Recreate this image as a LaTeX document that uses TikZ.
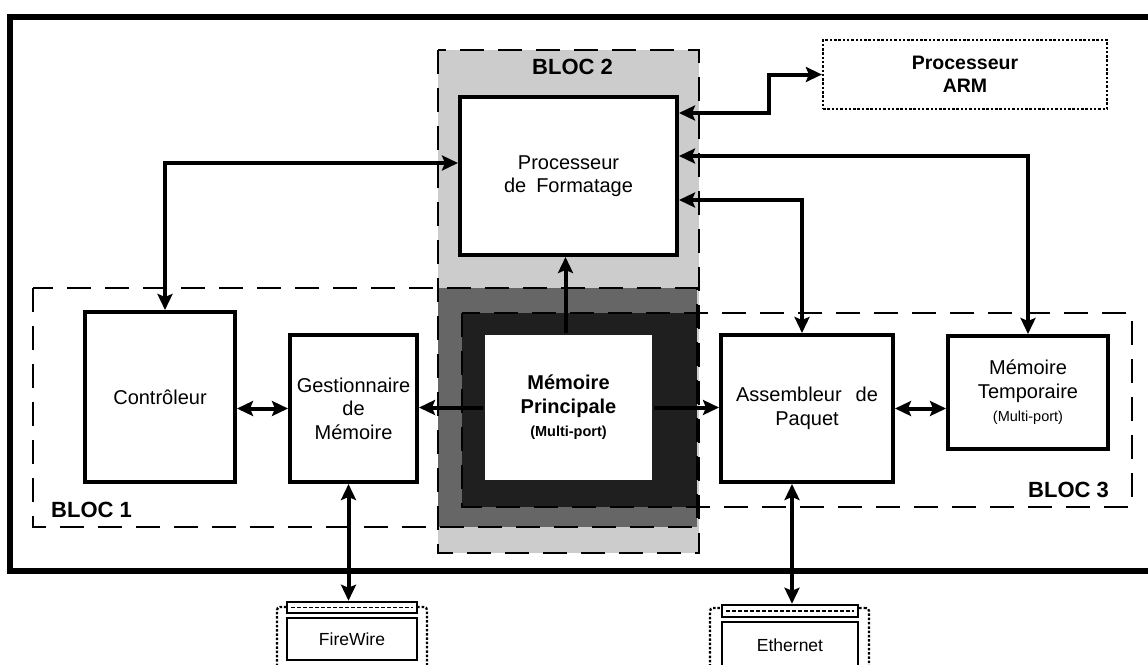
\documentclass[tikz,border=0pt]{standalone}
\usepackage{fontspec}
\setmainfont{Liberation Sans}
\usetikzlibrary{arrows.meta,calc}
\tikzset{
  box/.style={draw, line width=4pt, fill=white, align=center, inner sep=0pt,
    font=\fontsize{20}{23.5}\selectfont},
  conn/.style={line width=4pt},
  tipA/.tip={Stealth[length=16pt,width=15pt,inset=3pt]},
  dbl/.style={conn, tipA-tipA},
  sarr/.style={conn, -tipA},
  blocline/.style={draw, line width=2.6pt, dash pattern=on 24pt off 14pt},
  bloclabel/.style={font=\bfseries\fontsize{22}{26}\selectfont, inner sep=0pt, anchor=base west},
  dotbox/.style={draw, line width=2.2pt, dash pattern=on 2.5pt off 1.8pt},
  portbar/.style={draw, line width=2.5pt, fill=white, inner sep=0pt},
  portbox/.style={draw, line width=2.5pt, fill=white, inner sep=0pt,
    font=\fontsize{17.5}{20}\selectfont},
}
\begin{document}
\begin{tikzpicture}[x=1pt,y=-1pt]
\useasboundingbox (0,0) rectangle (1148,664);
\fill[white] (0,0) rectangle (1148,664);
% outer frame
\draw[line width=6pt] (1148,16.5) -- (10,16.5) -- (10,571) -- (1148,571);
% block fills
\fill[black!20] (438,50) rectangle (699,553);
\fill[black!60] (438,288) rectangle (697,527);
\fill[black!88] (462,313) rectangle (697,507);
% block dashed borders
\draw[blocline] (33,288) rectangle (697,527);
\draw[blocline] (438,50) rectangle (699,553);
\draw[blocline] (462,313) rectangle (1132,507);
% labels
\node[bloclabel] (b1) at (51,517) {BLOC 1};
\node[bloclabel] (b2) at (532,74) {BLOC 2};
\node[bloclabel] (b3) at (1028,497) {BLOC 3};
% nodes
\node[box, minimum width=150pt, minimum height=170pt] (ctrl) at (160,397) {Contr\^oleur};
\node[box, minimum width=127pt, minimum height=147pt] (gest) at (353.5,408.5) {Gestionnaire\\de\\M\'emoire};
\node[box, minimum width=167pt, minimum height=145pt, draw=none] (mp) at (568.5,407.5)
  {\textbf{M\'emoire}\\\textbf{Principale}\\{\bfseries\fontsize{14.5}{17}\selectfont (Multi-port)}};
\node[box, minimum width=217pt, minimum height=158pt] (pf) at (568.5,176) {Processeur\\de\hspace{10pt}Formatage};
\node[box, minimum width=172pt, minimum height=147pt] (asm) at (807,408.5) {Assembleur\hspace{14pt}de\\Paquet};
\node[box, minimum width=160pt, minimum height=113pt] (mt) at (1028,392.5)
  {M\'emoire\\Temporaire\\{\fontsize{14.5}{17}\selectfont (Multi-port)}};
\node[box, dotbox, minimum width=284pt, minimum height=69pt, font=\bfseries\fontsize{19.5}{23}\selectfont] (arm) at (965,74.5) {Processeur\\ARM};
% FireWire port
\node[dotbox, rounded corners=3pt, minimum width=150pt, minimum height=70pt, inner sep=0pt] (fwframe) at (352,642) {};
\node[portbar, minimum width=130pt, minimum height=11pt] (fwbar) at (352,607.5) {};
\draw[line width=1.6pt, dash pattern=on 4pt off 2pt] ($(fwbar.west)+(5,0)$) -- ($(fwbar.east)+(-5,0)$);
\node[portbox, minimum width=130pt, minimum height=42pt] (fw) at (352,639) {FireWire};
% Ethernet port
\node[dotbox, rounded corners=3pt, minimum width=159pt, minimum height=70pt, inner sep=0pt] (ethframe) at (789.5,643) {};
\node[portbar, minimum width=136pt, minimum height=12pt] (ethbar) at (790,611) {};
\draw[line width=1.6pt, dash pattern=on 4pt off 2pt] ($(ethbar.west)+(5,0)$) -- ($(ethbar.east)+(-5,0)$);
\node[portbox, minimum width=136pt, minimum height=46pt] (eth) at (790,645) {Ethernet};
% connectors
\coordinate (gs) at ($(gest.south)+(-5,0)$);
\coordinate (as) at ($(asm.south)+(-15,0)$);
\draw[dbl] ($(pf.west)+(0,-13)$) -| ($(ctrl.north)+(5,0)$);
\draw[dbl] ($(pf.east)+(0,-63)$) -- ++(90,0) |- (arm.west);
\draw[dbl] ($(pf.east)+(0,-20)$) -| (mt.north);
\draw[dbl] ($(pf.east)+(0,24)$) -| ($(asm.north)+(-5,0)$);
\draw[sarr] ($(mp.north)+(-3,0)$) -- ($(pf.south)+(-3,0)$);
\draw[sarr] (mp.west) -- (mp.west -| gest.east);
\draw[sarr] (mp.east) -- (mp.east -| asm.west);
\draw[dbl] (ctrl.east |- gest.west) -- (gest.west);
\draw[dbl] (asm.east) -- (asm.east -| mt.west);
\draw[dbl] (gs) -- (gs |- fwbar.north);
\draw[dbl] (as) -- (as |- ethbar.north);
\end{tikzpicture}
\end{document}
